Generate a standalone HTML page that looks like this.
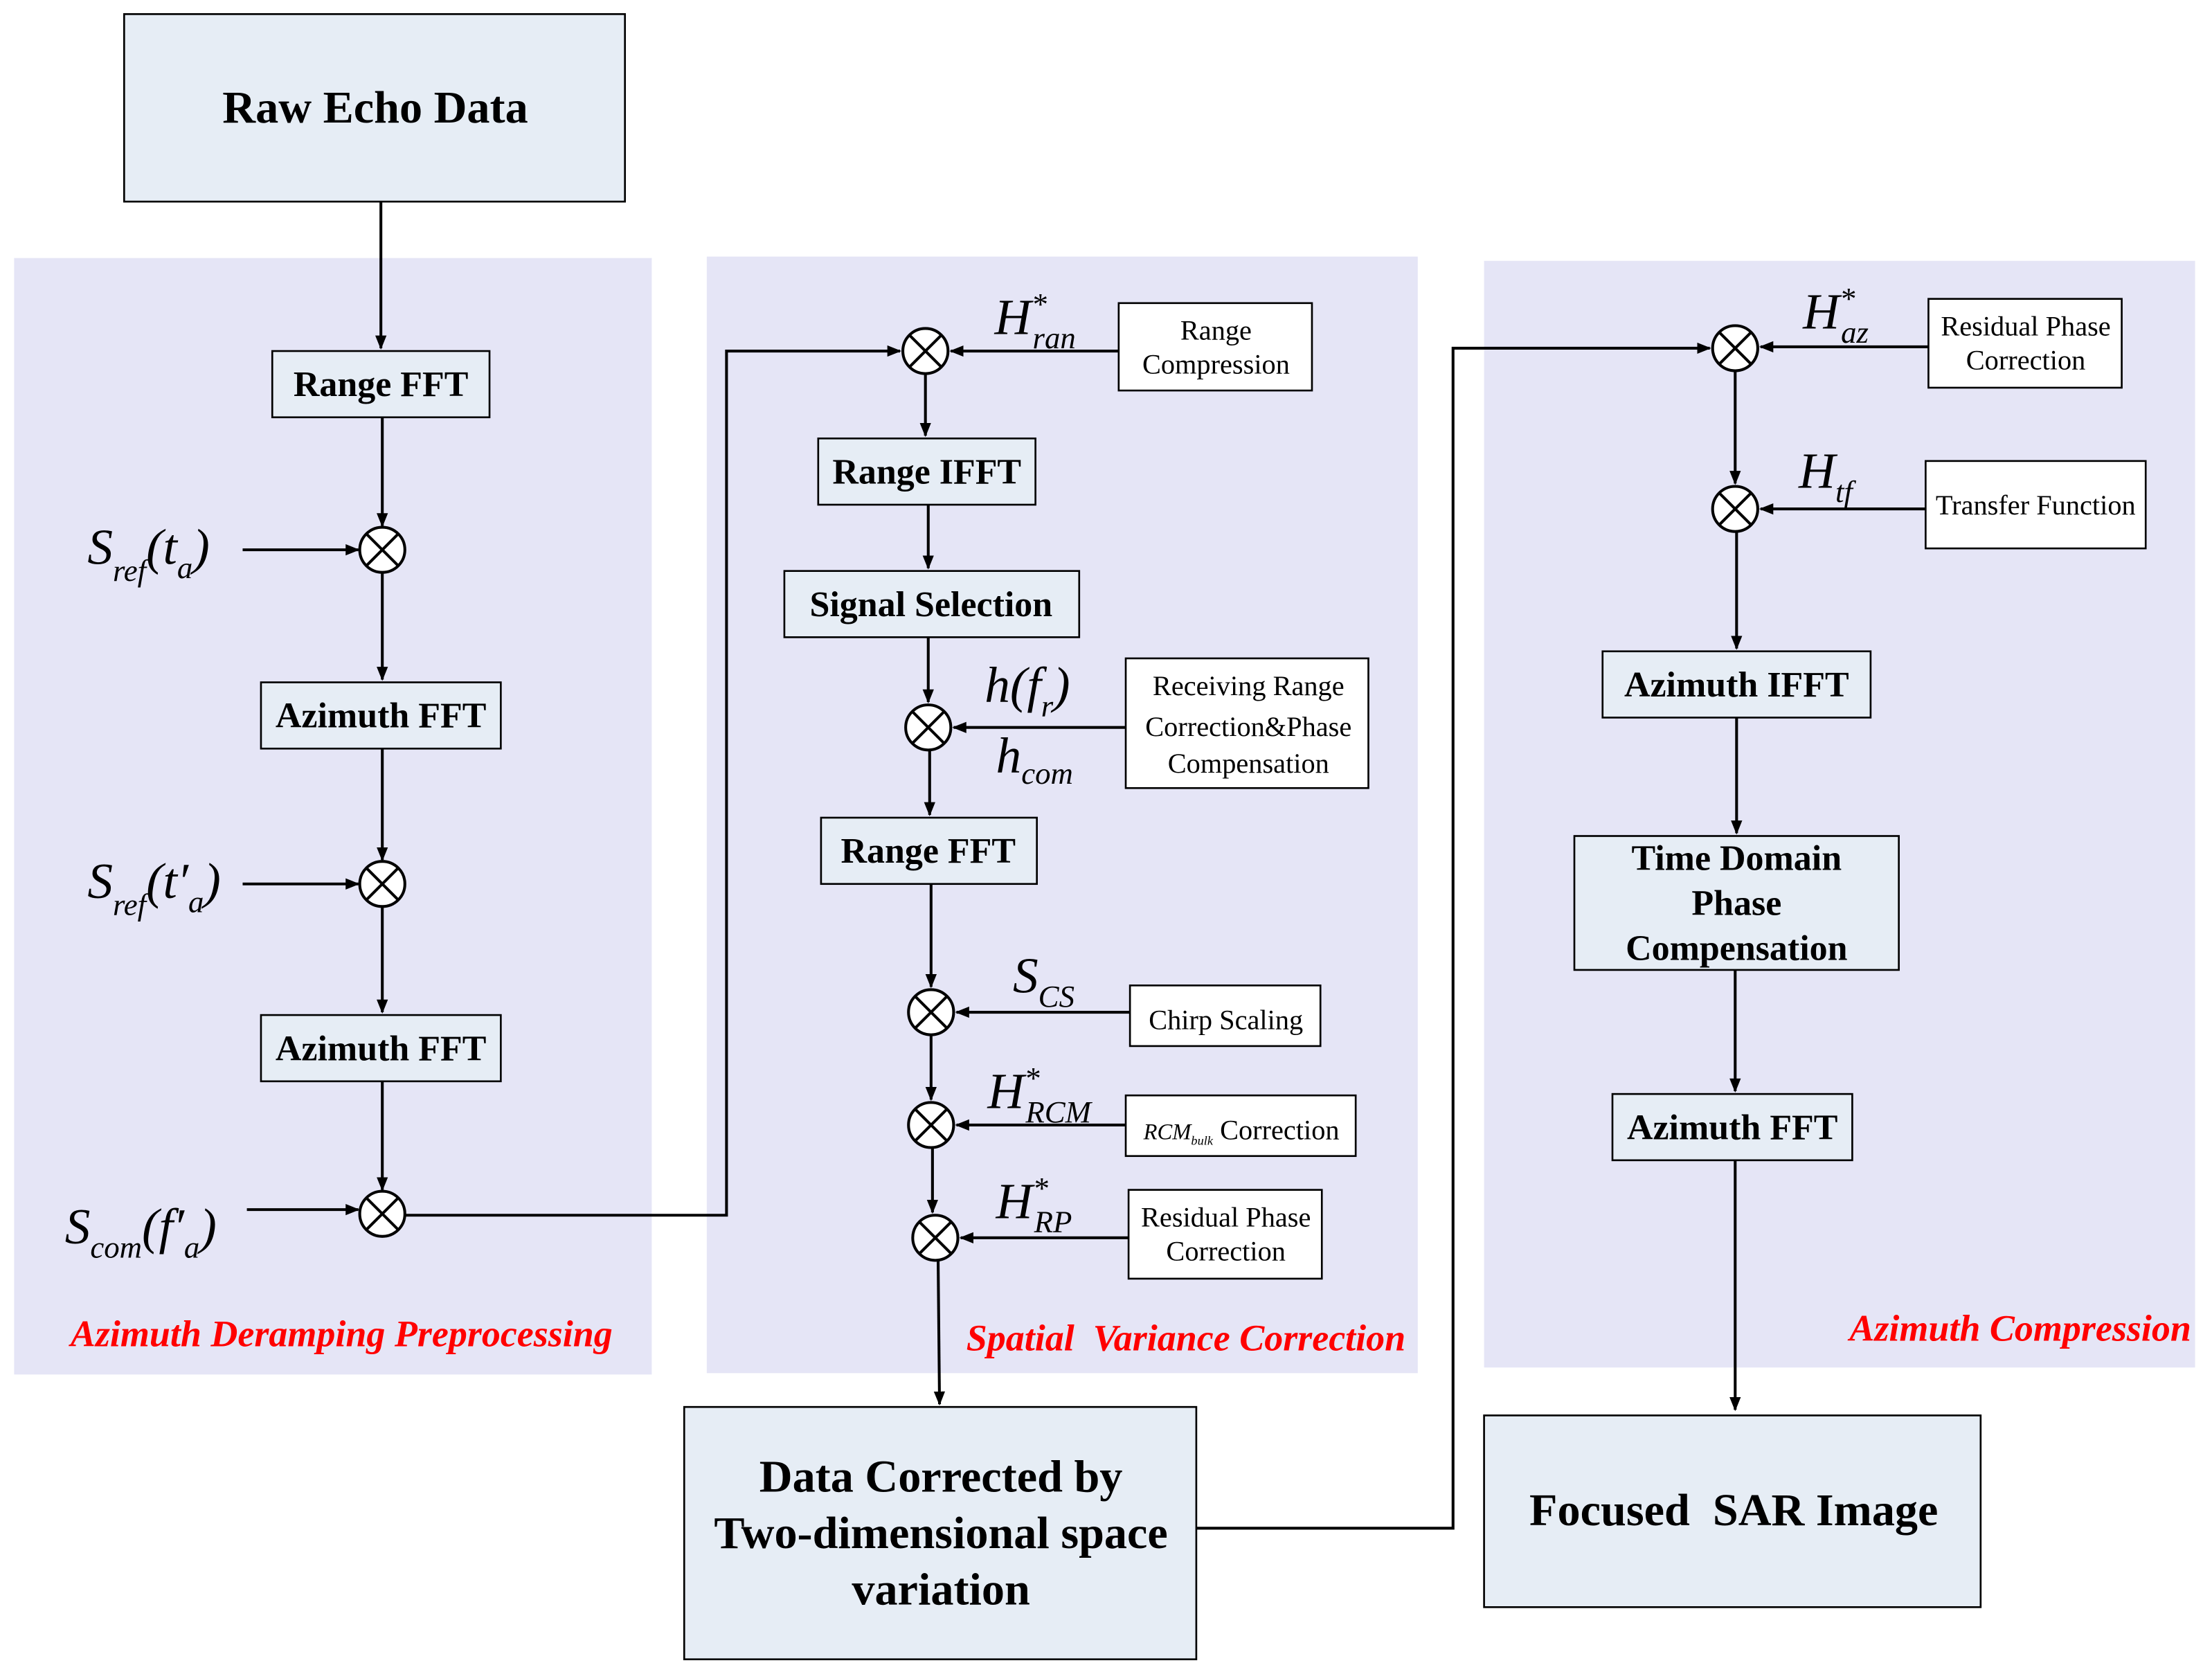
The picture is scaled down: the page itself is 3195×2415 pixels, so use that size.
<!DOCTYPE html>
<html><head><meta charset="utf-8"><style>
html,body{margin:0;padding:0;background:#fff}
svg{display:block}
text{font-family:"Liberation Serif",serif}
.b{font-weight:bold}
.r{fill:#f00;font-weight:bold;font-style:italic;font-size:26.5px}
.m{font-style:italic}
</style></head><body>
<svg width="3195" height="2415" viewBox="0 0 1568 1186" preserveAspectRatio="none" xmlns="http://www.w3.org/2000/svg">
<defs><marker id="a" markerWidth="10" markerHeight="10" refX="9" refY="5" orient="auto" markerUnits="userSpaceOnUse"><path d="M0,1 L10,5 L0,9 z" fill="#000"/></marker></defs>
<g fill="#e5e5f6">
<rect x="10" y="183" width="452" height="792"/>
<rect x="501" y="182" width="504" height="792"/>
<rect x="1052" y="185" width="504" height="785"/>
</g>
<g fill="#e6edf5" stroke="#000" stroke-width="1.3">
<rect x="88" y="10" width="355" height="133"/>
<rect x="193" y="249" width="154" height="47"/>
<rect x="185" y="484" width="170" height="47"/>
<rect x="185" y="720" width="170" height="47"/>
<rect x="580" y="311" width="154" height="47"/>
<rect x="556" y="405" width="209" height="47"/>
<rect x="582" y="580" width="153" height="47"/>
<rect x="485" y="998" width="363" height="179"/>
<rect x="1136" y="462" width="190" height="47"/>
<rect x="1116" y="593" width="230" height="95"/>
<rect x="1143" y="776" width="170" height="47"/>
<rect x="1052" y="1004" width="352" height="136"/>
</g>
<g fill="#fff" stroke="#000" stroke-width="1.3">
<rect x="793" y="215" width="137" height="62"/>
<rect x="798" y="467" width="172" height="92"/>
<rect x="801" y="699" width="135" height="43"/>
<rect x="798" y="777" width="163" height="43"/>
<rect x="800" y="844" width="137" height="63"/>
<rect x="1367" y="212" width="137" height="63"/>
<rect x="1365" y="327" width="156" height="62"/>
</g>
<g stroke="#000" stroke-width="2" fill="none">
<line x1="270" y1="143" x2="270" y2="247" marker-end="url(#a)"/>
<line x1="271" y1="296" x2="271" y2="373" marker-end="url(#a)"/>
<line x1="271" y1="406" x2="271" y2="482" marker-end="url(#a)"/>
<line x1="271" y1="531" x2="271" y2="610" marker-end="url(#a)"/>
<line x1="271" y1="643" x2="271" y2="718" marker-end="url(#a)"/>
<line x1="271" y1="767" x2="271" y2="844" marker-end="url(#a)"/>
<line x1="172" y1="390" x2="254" y2="390" marker-end="url(#a)"/>
<line x1="172" y1="627" x2="254" y2="627" marker-end="url(#a)"/>
<line x1="175" y1="858" x2="254" y2="858" marker-end="url(#a)"/>
<polyline points="287,862 515,862 515,249 638,249" marker-end="url(#a)"/>
<line x1="793" y1="249" x2="674" y2="249" marker-end="url(#a)"/>
<line x1="656" y1="265" x2="656" y2="309" marker-end="url(#a)"/>
<line x1="658" y1="358" x2="658" y2="403" marker-end="url(#a)"/>
<line x1="658" y1="452" x2="658" y2="498" marker-end="url(#a)"/>
<line x1="798" y1="516" x2="676" y2="516" marker-end="url(#a)"/>
<line x1="659" y1="532" x2="659" y2="578" marker-end="url(#a)"/>
<line x1="660" y1="627" x2="660" y2="700" marker-end="url(#a)"/>
<line x1="801" y1="718" x2="678" y2="718" marker-end="url(#a)"/>
<line x1="660" y1="734" x2="660" y2="780" marker-end="url(#a)"/>
<line x1="798" y1="798" x2="678" y2="798" marker-end="url(#a)"/>
<line x1="661" y1="814" x2="661" y2="860" marker-end="url(#a)"/>
<line x1="800" y1="878" x2="681" y2="878" marker-end="url(#a)"/>
<line x1="665" y1="894" x2="666" y2="996" marker-end="url(#a)"/>
<polyline points="848,1084 1030,1084 1030,247 1212,247" marker-end="url(#a)"/>
<line x1="1367" y1="246" x2="1248" y2="246" marker-end="url(#a)"/>
<line x1="1230" y1="263" x2="1230" y2="343" marker-end="url(#a)"/>
<line x1="1365" y1="361" x2="1248" y2="361" marker-end="url(#a)"/>
<line x1="1231" y1="377" x2="1231" y2="460" marker-end="url(#a)"/>
<line x1="1231" y1="509" x2="1231" y2="591" marker-end="url(#a)"/>
<line x1="1230" y1="688" x2="1230" y2="774" marker-end="url(#a)"/>
<line x1="1230" y1="823" x2="1230" y2="1000" marker-end="url(#a)"/>
</g>
<g stroke="#000" stroke-width="2" fill="#fff">
<g id="x1"><circle cx="271" cy="390" r="16"/><path d="M260,379 L282,401 M282,379 L260,401"/></g>
<use href="#x1" y="237"/><use href="#x1" y="471"/>
<use href="#x1" x="385" y="-141"/><use href="#x1" x="387" y="126"/>
<use href="#x1" x="389" y="328"/><use href="#x1" x="389" y="408"/><use href="#x1" x="392" y="488"/>
<use href="#x1" x="959" y="-143"/><use href="#x1" x="959" y="-29"/>
</g>
<g class="b" text-anchor="middle" font-size="32.5">
<text x="266" y="87">Raw Echo Data</text>
<text x="270" y="281" font-size="25.5">Range FFT</text>
<text x="270" y="516" font-size="25.5">Azimuth FFT</text>
<text x="270" y="752" font-size="25.5">Azimuth FFT</text>
<text x="657" y="343" font-size="25.5">Range IFFT</text>
<text x="660" y="437" font-size="25.5">Signal Selection</text>
<text x="658" y="612" font-size="25.5">Range FFT</text>
<text x="1231" y="494" font-size="25.5">Azimuth IFFT</text>
<text x="1231" y="617" font-size="25.5">Time Domain</text>
<text x="1231" y="649" font-size="25.5">Phase</text>
<text x="1231" y="681" font-size="25.5">Compensation</text>
<text x="1228" y="808" font-size="25.5">Azimuth FFT</text>
<text x="667" y="1058">Data Corrected by</text>
<text x="667" y="1098">Two-dimensional space</text>
<text x="667" y="1138">variation</text>
<text x="1229" y="1082" xml:space="preserve">Focused  SAR Image</text>
</g>
<g text-anchor="middle" font-size="19.8">
<text x="862" y="241">Range</text><text x="862" y="265">Compression</text>
<text x="885" y="493">Receiving Range</text><text x="885" y="522">Correction&amp;Phase</text><text x="885" y="548">Compensation</text>
<text x="869" y="730">Chirp Scaling</text>
<text x="880" y="808"><tspan class="m" font-size="16">RCM</tspan><tspan class="m" font-size="9" dy="4">bulk</tspan><tspan dy="-4"> Correction</tspan></text>
<text x="869" y="870">Residual Phase</text><text x="869" y="894">Correction</text>
<text x="1436" y="238">Residual Phase</text><text x="1436" y="262">Correction</text>
<text x="1443" y="365">Transfer Function</text>
</g>
<g class="m" font-size="36">
<text x="62" y="400">S<tspan font-size="22" dy="12">ref</tspan><tspan dy="-12">(t</tspan><tspan font-size="22" dy="10">a</tspan><tspan dy="-10">)</tspan></text>
<text x="62" y="637">S<tspan font-size="22" dy="12">ref</tspan><tspan dy="-12">(t′</tspan><tspan font-size="22" dy="10">a</tspan><tspan dy="-10">)</tspan></text>
<text x="46" y="882">S<tspan font-size="22" dy="10">com</tspan><tspan dy="-10">(f′</tspan><tspan font-size="22" dy="10">a</tspan><tspan dy="-10">)</tspan></text>
<text x="705" y="237">H<tspan font-size="22" dy="-14">*</tspan><tspan font-size="22" dx="-10" dy="24">ran</tspan></text>
<text x="698" y="498">h(f<tspan font-size="22" dy="10">r</tspan><tspan dy="-10">)</tspan></text>
<text x="706" y="548">h<tspan font-size="22" dy="8">com</tspan></text>
<text x="718" y="704">S<tspan font-size="22" dy="10">CS</tspan></text>
<text x="700" y="786">H<tspan font-size="22" dy="-14">*</tspan><tspan font-size="22" dx="-10" dy="24">RCM</tspan></text>
<text x="706" y="864">H<tspan font-size="22" dy="-14">*</tspan><tspan font-size="22" dx="-10" dy="24">RP</tspan></text>
<text x="1278" y="233">H<tspan font-size="22" dy="-14">*</tspan><tspan font-size="22" dx="-10" dy="24">az</tspan></text>
<text x="1275" y="346">H<tspan font-size="22" dy="10">tf</tspan></text>
</g>
<text class="r" x="50" y="955">Azimuth Deramping Preprocessing</text>
<text class="r" x="685" y="958" xml:space="preserve">Spatial  Variance Correction</text>
<text class="r" x="1311" y="951">Azimuth Compression</text>
</svg>
</body></html>
